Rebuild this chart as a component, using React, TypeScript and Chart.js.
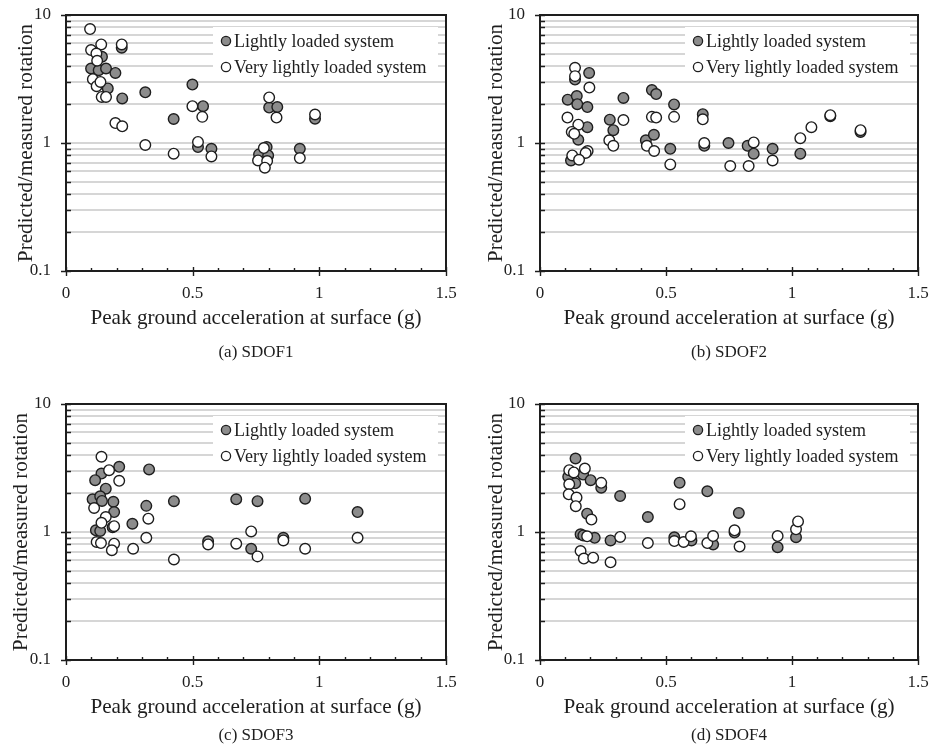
import React, { useEffect, useRef } from 'react';
import { Chart, registerables } from 'chart.js';

Chart.register(...registerables);

// ---------- axes ----------
const X_MIN = 0;
const X_MAX = 1.5;
const Y_MIN = 0.1;
const Y_MAX = 10;
const X_TICKS = [0, 0.1, 0.2, 0.3, 0.4, 0.5, 0.6, 0.7, 0.8, 0.9, 1, 1.1, 1.2, 1.3, 1.4, 1.5];
const X_LABELLED = [0, 0.5, 1, 1.5];
const Y_TICKS = [0.1, 0.2, 0.3, 0.4, 0.5, 0.6, 0.7, 0.8, 0.9, 1, 2, 3, 4, 5, 6, 7, 8, 9, 10];
const Y_LABELLED = [0.1, 1, 10];
const X_TITLE = 'Peak ground acceleration at surface (g)';
const Y_TITLE = 'Predicted/measured rotation';
const SERIES_NAMES = ['Lightly loaded system', 'Very lightly loaded system'];
const CAPTIONS = ['(a) SDOF1', '(b) SDOF2', '(c) SDOF3', '(d) SDOF4'];

// ---------- data: SDOF1 ----------
const sdof1LightX = [0.099, 0.142, 0.129, 0.158, 0.195, 0.165, 0.220, 0.222, 0.313, 0.425, 0.499, 0.541, 0.521, 0.574, 0.802, 0.834, 0.792, 0.762, 0.798, 0.923, 0.983];
const sdof1LightY = [3.82, 4.72, 3.70, 3.82, 3.53, 2.67, 5.55, 2.23, 2.49, 1.54, 2.86, 1.94, 0.93, 0.90, 1.89, 1.91, 0.93, 0.815, 0.80, 0.90, 1.55];
const sdof1VeryX = [0.095, 0.099, 0.139, 0.220, 0.120, 0.123, 0.106, 0.121, 0.136, 0.141, 0.158, 0.195, 0.222, 0.313, 0.425, 0.499, 0.538, 0.521, 0.574, 0.802, 0.831, 0.781, 0.758, 0.794, 0.785, 0.923, 0.983];
const sdof1VeryY = [7.77, 5.32, 5.89, 5.89, 5.0, 4.39, 3.15, 2.78, 3.0, 2.29, 2.29, 1.43, 1.35, 0.965, 0.825, 1.94, 1.60, 1.02, 0.786, 2.27, 1.58, 0.913, 0.731, 0.723, 0.641, 0.763, 1.67];

// ---------- data: SDOF2 ----------
const sdof2LightX = [0.195, 0.139, 0.110, 0.146, 0.148, 0.188, 0.188, 0.152, 0.123, 0.185, 0.277, 0.291, 0.331, 0.444, 0.461, 0.420, 0.452, 0.532, 0.517, 0.646, 0.652, 0.748, 0.824, 0.848, 0.923, 1.033, 1.152, 1.272];
const sdof2LightY = [3.53, 3.13, 2.18, 2.33, 2.01, 1.91, 1.33, 1.06, 0.73, 0.85, 1.52, 1.26, 2.25, 2.59, 2.41, 1.05, 1.16, 2.0, 0.90, 1.68, 0.95, 1.0, 0.95, 0.825, 0.90, 0.825, 1.62, 1.22];
const sdof2VeryX = [0.139, 0.139, 0.196, 0.109, 0.152, 0.126, 0.136, 0.189, 0.181, 0.128, 0.155, 0.275, 0.291, 0.331, 0.424, 0.453, 0.444, 0.461, 0.532, 0.517, 0.646, 0.652, 0.755, 0.828, 0.848, 0.923, 1.033, 1.077, 1.152, 1.272];
const sdof2VeryY = [3.87, 3.33, 2.71, 1.58, 1.39, 1.22, 1.18, 0.866, 0.835, 0.80, 0.74, 1.05, 0.95, 1.51, 0.95, 0.866, 1.60, 1.58, 1.60, 0.68, 1.53, 1.0, 0.66, 0.66, 1.01, 0.73, 1.09, 1.33, 1.65, 1.26];

// ---------- data: SDOF3 ----------
const sdof3LightX = [0.210, 0.328, 0.140, 0.115, 0.157, 0.105, 0.135, 0.142, 0.187, 0.190, 0.317, 0.426, 0.262, 0.118, 0.135, 0.184, 0.561, 0.672, 0.756, 0.731, 0.858, 0.944, 1.151];
const sdof3LightY = [3.23, 3.08, 2.86, 2.54, 2.18, 1.80, 1.90, 1.75, 1.72, 1.43, 1.60, 1.74, 1.16, 1.03, 1.02, 1.09, 0.845, 1.80, 1.74, 0.74, 0.90, 1.82, 1.43];
const sdof3VeryX = [0.140, 0.170, 0.210, 0.111, 0.157, 0.140, 0.190, 0.121, 0.138, 0.190, 0.181, 0.265, 0.317, 0.325, 0.426, 0.561, 0.672, 0.731, 0.756, 0.858, 0.944, 1.151];
const sdof3VeryY = [3.87, 3.04, 2.51, 1.54, 1.31, 1.18, 1.11, 0.835, 0.82, 0.81, 0.72, 0.74, 0.90, 1.27, 0.61, 0.80, 0.81, 1.01, 0.645, 0.86, 0.74, 0.90];

// ---------- data: SDOF4 ----------
const sdof4LightX = [0.141, 0.171, 0.201, 0.243, 0.112, 0.140, 0.318, 0.187, 0.161, 0.172, 0.217, 0.280, 0.428, 0.554, 0.533, 0.601, 0.664, 0.687, 0.772, 0.789, 0.943, 1.016];
const sdof4LightY = [3.75, 2.81, 2.54, 2.22, 2.70, 2.40, 1.91, 1.39, 0.96, 0.94, 0.90, 0.86, 1.31, 2.43, 0.91, 0.86, 2.08, 0.80, 0.99, 1.41, 0.76, 0.91];
const sdof4VeryX = [0.116, 0.134, 0.178, 0.243, 0.116, 0.114, 0.145, 0.142, 0.204, 0.187, 0.161, 0.174, 0.211, 0.280, 0.318, 0.428, 0.533, 0.570, 0.599, 0.554, 0.664, 0.687, 0.772, 0.792, 0.943, 1.016, 1.024];
const sdof4VeryY = [3.04, 2.92, 3.13, 2.42, 2.36, 1.97, 1.86, 1.59, 1.25, 0.925, 0.71, 0.62, 0.63, 0.58, 0.915, 0.82, 0.85, 0.835, 0.925, 1.65, 0.82, 0.93, 1.03, 0.77, 0.93, 1.05, 1.21];

// ---------- layout / style (not data) ----------
const FONT = "'Liberation Serif', 'Times New Roman', serif";
const TEXT = '#1e1e1e';
const GREY_FILL = '#8c8c8c';
const MARK_EDGE = '#1e1e1e';
const GRID = '#d6d6d6';
const CW = 466;
const CH = 372;

type PanelLayout = { cx: number; cy: number; L: number; R: number; T: number; B: number; capY: number; yTitleOff: number };
// all coordinates relative to the panel's own canvas
const LAYOUTS: PanelLayout[] = [
  { cx: 0, cy: 0, L: 66, R: 446, T: 15, B: 271, capY: 352, yTitleOff: 40 },
  { cx: 466, cy: 0, L: 74, R: 452, T: 15, B: 271, capY: 352, yTitleOff: 44 },
  { cx: 0, cy: 372, L: 66, R: 446, T: 32, B: 288, capY: 363, yTitleOff: 45 },
  { cx: 466, cy: 372, L: 74, R: 452, T: 32, B: 288, capY: 363, yTitleOff: 44 },
];

const PANEL_DATA = [
  [sdof1LightX, sdof1LightY, sdof1VeryX, sdof1VeryY],
  [sdof2LightX, sdof2LightY, sdof2VeryX, sdof2VeryY],
  [sdof3LightX, sdof3LightY, sdof3VeryX, sdof3VeryY],
  [sdof4LightX, sdof4LightY, sdof4VeryX, sdof4VeryY],
];

const zip = (xs: number[], ys: number[]) => xs.map((x, i) => ({ x, y: ys[i] }));
const isIn = (arr: number[], v: number) => arr.some((a) => Math.abs(a - v) < 1e-9);

const decorPlugin = {
  id: 'decor',
  afterDatasetsDraw(chart: any) {
    const { ctx, chartArea } = chart;
    const { left, right, top, bottom } = chartArea;
    const xs = chart.scales.x;
    const ys = chart.scales.y;
    ctx.save();
    ctx.strokeStyle = TEXT;
    ctx.lineWidth = 1.4;
    ctx.beginPath();
    ys.ticks.forEach((t: any) => {
      const y = Math.round(ys.getPixelForValue(t.value)) + 0.5;
      const major = isIn(Y_LABELLED, t.value);
      ctx.moveTo(left - (major ? 5 : 0), y);
      ctx.lineTo(left + 5, y);
    });
    xs.ticks.forEach((t: any) => {
      const x = Math.round(xs.getPixelForValue(t.value)) + 0.5;
      const major = isIn(X_LABELLED, t.value);
      ctx.moveTo(x, bottom + (major ? 5 : 0));
      ctx.lineTo(x, bottom - (major ? 4 : 3));
    });
    ctx.stroke();
    ctx.lineWidth = 2;
    ctx.strokeRect(left, top, right - left, bottom - top);

    // legend
    const lx = right - 233;
    const ly = top + 12;
    ctx.fillStyle = '#ffffff';
    ctx.fillRect(lx, ly, 225, 54);
    ctx.font = `18px ${FONT}`;
    ctx.textBaseline = 'middle';
    ctx.textAlign = 'left';
    const fills = [GREY_FILL, '#ffffff'];
    SERIES_NAMES.forEach((name, i) => {
      const cy = top + 26 + i * 26;
      const cx = right - 220;
      ctx.beginPath();
      ctx.arc(cx, cy, 4.6, 0, Math.PI * 2);
      ctx.fillStyle = fills[i];
      ctx.fill();
      ctx.lineWidth = 1.3;
      ctx.strokeStyle = MARK_EDGE;
      ctx.stroke();
      ctx.fillStyle = TEXT;
      ctx.fillText(name, cx + 8, cy + 1);
    });
    ctx.restore();
  },
};

function Panel({ index }: { index: number }) {
  const ref = useRef<HTMLCanvasElement | null>(null);
  const lay = LAYOUTS[index];
  useEffect(() => {
    if (!ref.current) return;
    const [lx, ly, vx, vy] = PANEL_DATA[index];
    const titleFont = 21.2;
    const half = (titleFont * 1.2) / 2;
    const yTitleCenter = lay.L - lay.yTitleOff;
    const xTitleCenter = lay.B + 47;
    const chart = new Chart(ref.current, {
      type: 'scatter',
      data: {
        datasets: [
          {
            label: SERIES_NAMES[0],
            data: zip(lx, ly),
            backgroundColor: GREY_FILL,
            borderColor: MARK_EDGE,
            borderWidth: 1.4,
            pointRadius: 5.3,
            order: 2,
          },
          {
            label: SERIES_NAMES[1],
            data: zip(vx, vy),
            backgroundColor: '#ffffff',
            borderColor: MARK_EDGE,
            borderWidth: 1.4,
            pointRadius: 5.3,
            order: 1,
          },
        ],
      },
      options: {
        responsive: false,
        animation: false,
        devicePixelRatio: 1,
        layout: { padding: { left: 0, bottom: 0, top: lay.T, right: CW - lay.R } },
        plugins: { legend: { display: false }, tooltip: { enabled: false } },
        scales: {
          x: {
            type: 'linear',
            min: X_MIN,
            max: X_MAX,
            afterBuildTicks: (s: any) => {
              s.ticks = X_TICKS.map((v) => ({ value: v }));
            },
            afterFit: (s: any) => {
              s.height = CH - lay.B;
            },
            grid: { display: false, drawTicks: true, tickLength: 12, tickColor: 'rgba(0,0,0,0)' },
            border: { display: false },
            ticks: {
              autoSkip: false,
              maxRotation: 0,
              padding: 0,
              color: TEXT,
              font: { family: FONT, size: 17 },
              callback: (v: any) => (isIn(X_LABELLED, Number(v)) ? String(Number(v)) : ''),
            },
            title: {
              display: true,
              text: X_TITLE,
              color: TEXT,
              font: { family: FONT, size: titleFont, lineHeight: 1.2 },
              padding: { top: 0, bottom: CH - xTitleCenter - half },
            },
          },
          y: {
            type: 'logarithmic',
            min: Y_MIN,
            max: Y_MAX,
            afterBuildTicks: (s: any) => {
              s.ticks = Y_TICKS.map((v) => ({ value: v, major: isIn(Y_LABELLED, v) }));
            },
            afterFit: (s: any) => {
              s.width = lay.L;
            },
            grid: { display: true, drawTicks: true, tickLength: 15, tickColor: 'rgba(0,0,0,0)', color: GRID, lineWidth: 2 },
            border: { display: false },
            ticks: {
              autoSkip: false,
              padding: 0,
              color: TEXT,
              font: { family: FONT, size: 17 },
              callback: (v: any) => (isIn(Y_LABELLED, Number(v)) ? String(Number(v)) : ''),
            },
            title: {
              display: true,
              text: Y_TITLE,
              color: TEXT,
              font: { family: FONT, size: titleFont, lineHeight: 1.2 },
              padding: { top: yTitleCenter - half, bottom: 0 },
            },
          },
        },
      },
      plugins: [decorPlugin],
    } as any);
    return () => chart.destroy();
  }, [index]);

  return (
    <>
      <canvas
        ref={ref}
        width={CW}
        height={CH}
        style={{ position: 'absolute', left: lay.cx, top: lay.cy, width: CW, height: CH }}
      />
      <div
        style={{
          position: 'absolute',
          left: lay.cx + (lay.L + lay.R) / 2 - 100,
          top: lay.cy + lay.capY - 11,
          width: 200,
          textAlign: 'center',
          fontFamily: FONT,
          fontSize: 17,
          lineHeight: '22px',
          color: TEXT,
        }}
      >
        {CAPTIONS[index]}
      </div>
    </>
  );
}

export default function App() {
  return (
    <div style={{ position: 'absolute', left: 0, top: 0, width: 932, height: 744, background: '#ffffff' }}>
      {[0, 1, 2, 3].map((i) => (
        <Panel key={i} index={i} />
      ))}
    </div>
  );
}
